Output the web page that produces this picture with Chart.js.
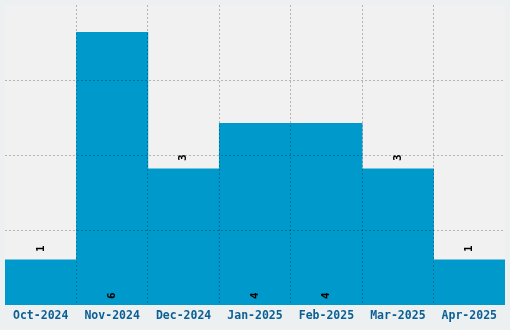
<!DOCTYPE html>
<html>
<head>
<meta charset="utf-8">
<script src="https://cdn.jsdelivr.net/npm/chart.js@4"></script>
<style>
  html, body { margin: 0; padding: 0; background: #edf0f1; }
  #wrap { width: 510px; height: 330px; }
</style>
</head>
<body>
<div id="wrap"><canvas id="chart"></canvas></div>
<script>
const months = ['Oct-2024', 'Nov-2024', 'Dec-2024', 'Jan-2025', 'Feb-2025', 'Mar-2025', 'Apr-2025'];
const counts = [1, 6, 3, 4, 4, 3, 1];
const yMax = 6.6;
const yStep = 1.65;

const FONT = '"DejaVu Sans Mono", monospace';

// light plot background behind the bars
const plotBg = {
  id: 'plotBg',
  beforeDraw(chart) {
    const { ctx, chartArea: a } = chart;
    ctx.save();
    ctx.fillStyle = '#f1f1f1';
    ctx.fillRect(a.left, a.top, a.right - a.left, a.bottom - a.top);
    ctx.restore();
  }
};

// vertical value labels, above short bars and inside the base of tall ones
const valueLabels = {
  id: 'valueLabels',
  afterDraw(chart) {
    const { ctx } = chart;
    const meta = chart.getDatasetMeta(0);
    ctx.save();
    ctx.fillStyle = '#000';
    ctx.font = 'bold 11px ' + FONT;
    ctx.textAlign = 'center';
    ctx.textBaseline = 'middle';
    meta.data.forEach((bar, i) => {
      const v = counts[i];
      const y = v > yMax / 2 ? bar.base - 9 : bar.y - 11;
      ctx.save();
      ctx.translate(bar.x, y);
      ctx.rotate(-Math.PI / 2);
      ctx.fillText(String(v), 0, 0);
      ctx.restore();
    });
    ctx.restore();
  }
};

const innerLine = (ctx, last) =>
  ctx.type !== 'tick' || ctx.index === 0 || ctx.index === last ? 'rgba(0,0,0,0)' : 'rgba(0,0,0,0.25)';

new Chart(document.getElementById('chart'), {
  type: 'bar',
  data: {
    labels: months,
    datasets: [{
      data: counts,
      backgroundColor: '#0099cc',
      borderWidth: 0,
      barPercentage: 1,
      categoryPercentage: 1,
    }]
  },
  options: {
    responsive: true,
    maintainAspectRatio: false,
    animation: false,
    layout: { padding: { left: 5, right: 5, top: 5, bottom: 3 } },
    plugins: {
      legend: { display: false },
      tooltip: { enabled: false },
    },
    scales: {
      x: {
        offset: true,
        border: { display: false, dash: [2, 2] },
        grid: {
          offset: true,
          z: 1,
          drawTicks: false,
          color: (ctx) => innerLine(ctx, -1),
        },
        ticks: {
          color: '#0b5f95',
          padding: 4,
          maxRotation: 0,
          font: { family: FONT, size: 11.5, weight: 'bold' },
        },
      },
      y: {
        display: true,
        min: 0,
        max: yMax,
        border: { display: false, dash: [2, 2] },
        grid: {
          z: 1,
          drawTicks: false,
          color: (ctx) => innerLine(ctx, 4),
        },
        ticks: { display: false, stepSize: yStep },
      },
    },
  },
  plugins: [plotBg, valueLabels],
});
</script>
</body>
</html>
